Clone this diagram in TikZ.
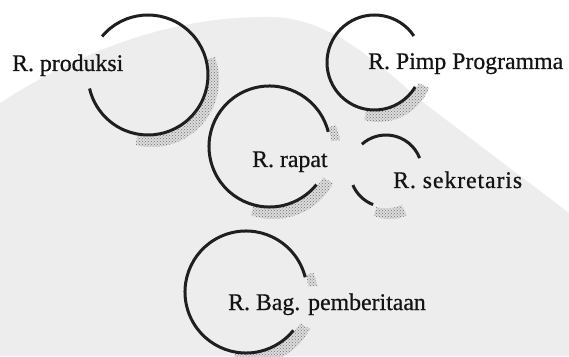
\documentclass[tikz,border=0pt]{standalone}
\usepackage{fontspec}
\setmainfont{Liberation Serif}
\usetikzlibrary{patterns}
\newcommand\stipcres[5]{%
  \begin{scope}
    \clip (#1,#2) -- ++(#4:#3+25) arc[start angle=#4, end angle=#5, radius=#3+25] -- cycle;
    \fill[stipplebase, even odd rule] (#1+4,#2-5) circle[radius=#3+7] (#1,#2) circle[radius=#3+1.4];
    \fill[stipple, even odd rule] (#1+4,#2-5) circle[radius=#3+7] (#1,#2) circle[radius=#3+1.4];
  \end{scope}}
\tikzset{
  room/.style={line width=3pt, draw=black!88},
  lbl/.style={font=\rmfamily\fontsize{23.8}{28}\selectfont\addfontfeature{FakeBold=0.7}, text=black!92, inner sep=0pt, anchor=base west},
  stipplebase/.style={fill=black!14},
  stipple/.style={pattern=crosshatch dots, pattern color=black!55},
  paper/.style={fill=black!7, draw=none}
}
\begin{document}
\begin{tikzpicture}[x=1pt,y=1pt]
\useasboundingbox (0,0) rectangle (569,356);
% background (scanned paper with grey watermark area)
\fill[white] (0,0) rectangle (569,356);
\fill[paper] (0,253) .. controls (90,311) and (180,340) .. (270,339)
  .. controls (330,339) and (380,291) .. (420,256) -- (569,143) -- (569,0) -- (0,0) -- cycle;

% centres of the rooms
\coordinate (cProd) at (148,281);
\coordinate (cPimp) at (374.5,293.5);
\coordinate (cRapat) at (269.5,209.5);
\coordinate (cSekr) at (386,185);
\coordinate (cBag) at (246,64);

% stippled shadows
\stipcres{148}{281}{60}{-100}{15}
\stipcres{374.5}{293.5}{47.5}{-100}{-25}
\stipcres{269.5}{209.5}{60.5}{-105}{-30}
\stipcres{269.5}{209.5}{60.5}{5}{18}
\stipcres{386}{185}{36}{-105}{-65}
\stipcres{246}{64}{61}{-100}{-30}
\stipcres{246}{64}{61}{5}{16}

% room arcs
\draw[room] (cProd) ++(140:60) arc[start angle=140, end angle=-167, radius=60];
\draw[room] (cPimp) ++(34:47.5) arc[start angle=34, end angle=329, radius=47.5];
\draw[room] (cRapat) ++(14:60.5) arc[start angle=14, end angle=321, radius=60.5];
\draw[room] (cSekr) ++(21:36) arc[start angle=21, end angle=132, radius=36];
\draw[room] (cSekr) ++(203:36) arc[start angle=203, end angle=249, radius=36];
\draw[room] (cBag) ++(14:61) arc[start angle=14, end angle=321, radius=61];

% labels
\node[lbl] (tProd) at (12,285) {R. produksi};
\node[lbl] (tPimp) at (368,287) {R. Pimp Programma};
\node[lbl] (tRapat) at (252,189) {R. rapat};
\node[lbl] (tSekr) at (393,168) {\addfontfeature{LetterSpace=3.8}R. sekretaris};
\node[lbl] (tBag) at (228,46) {R. Bag. pemberitaan};
\end{tikzpicture}
\end{document}
